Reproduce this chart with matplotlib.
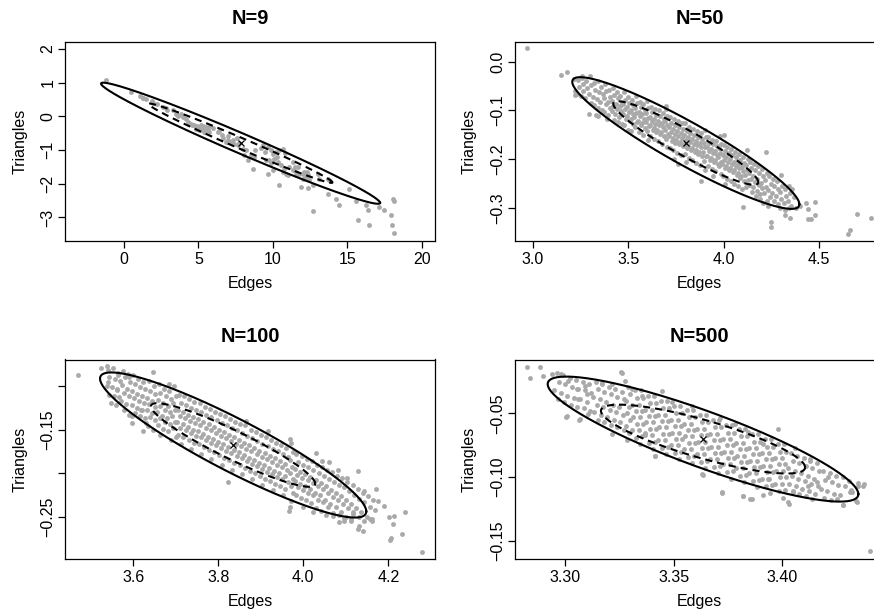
import numpy as np
import matplotlib
matplotlib.use("Agg")
import matplotlib.pyplot as plt

plt.rcParams['font.family'] = ['Liberation Sans', 'DejaVu Sans']

titles = ["N=9", "N=50", "N=100", "N=500"]
x_label = "Edges"
y_label = "Triangles"

pts_9 = [(-1.21,1.07),(0.47,0.72),(1.25,0.54),(1.48,0.52),(1.88,0.45),(1.97,0.38),(2.60,0.28),(2.82,0.23),(3.27,0.18),(3.49,0.08),
(3.83,0.08),(3.94,-0.02),(4.17,-0.07),(4.28,-0.17),(4.50,-0.22),(4.73,-0.27),(4.95,-0.32),(5.17,-0.27),(5.29,-0.37),(5.51,-0.32),
(5.62,-0.42),(5.73,-0.47),(5.96,-0.35),(5.06,-0.42),(4.84,-0.39),(5.40,-0.47),(6.41,-0.45),(6.63,-0.64),(6.97,-0.71),(7.19,-0.76),
(7.41,-0.81),(7.30,-0.71),(7.64,-0.86),(7.97,-0.96),(8.20,-1.01),(8.09,-1.16),(8.31,-1.31),(8.64,-1.55),(9.32,-0.86),(9.65,-0.91),
(9.88,-1.01),(9.99,-1.11),(10.21,-1.06),(10.44,-1.01),(10.66,-0.98),(9.54,-1.31),(9.76,-1.31),(10.10,-1.26),(10.32,-1.36),(10.55,-1.46),
(10.77,-1.55),(10.88,-1.70),(11.11,-1.50),(11.33,-1.60),(11.56,-1.65),(11.67,-1.50),(11.78,-1.70),(12.00,-1.85),(12.12,-1.65),(12.34,-1.75),
(12.45,-1.90),(12.68,-2.05),(12.23,-1.80),(9.65,-1.70),(9.99,-1.60),(10.44,-2.05),(11.89,-2.10),(12.34,-2.13),(13.01,-1.70),(13.12,-1.85),
(13.68,-1.85),(13.80,-1.90),(13.68,-2.30),(14.24,-2.45),(14.47,-2.62),(15.10,-2.15),(15.59,-2.50),(16.26,-2.64),(16.37,-2.79),(17.16,-2.69),
(17.49,-2.79),(17.94,-2.92),(18.05,-2.45),(18.12,-2.52),(18.01,-3.24),(18.16,-3.46),(12.68,-2.80),(15.70,-3.09),(16.48,-3.22),(6.85,-0.76),
(6.29,-0.47),(7.75,-0.78),(8.53,-1.16),(8.76,-1.21),(11.33,-1.36),(11.56,-1.75),(10.66,-1.65),(11.00,-1.75),
(4.6,-0.25),(4.9,-0.28),(5.3,-0.30),(5.6,-0.35),(5.8,-0.30),(5.2,-0.40),(4.4,-0.20),(3.6,0.0),(2.9,0.20),(2.2,0.35),(1.3,0.55),(1.1,0.60),
(9.9,-1.40),(10.3,-1.20),(10.8,-1.10),(11.5,-1.50),(12.0,-1.70),(12.3,-1.65),(9.5,-1.05),(9.2,-0.95),(8.8,-1.00),(7.6,-0.65),(7.0,-0.60),(6.6,-0.55)]

pts_50 = [(3.215,-0.035),(3.221,-0.060),(3.235,-0.038),(3.241,-0.052),(3.230,-0.066),
(3.260,-0.033),(3.266,-0.046),(3.255,-0.070),(3.263,-0.061),(3.280,-0.040),(3.286,-0.055),(3.275,-0.075),
(3.300,-0.030),(3.306,-0.048),(3.295,-0.066),(3.303,-0.085),(3.293,-0.107),
(3.320,-0.045),(3.326,-0.058),(3.315,-0.072),(3.323,-0.090),
(3.340,-0.040),(3.346,-0.062),(3.335,-0.077),(3.343,-0.095),(3.333,-0.110),
(3.360,-0.052),(3.366,-0.066),(3.355,-0.083),(3.363,-0.099),
(3.380,-0.047),(3.386,-0.060),(3.375,-0.075),(3.383,-0.088),(3.373,-0.104),(3.388,-0.118),
(3.400,-0.058),(3.406,-0.072),(3.395,-0.083),(3.403,-0.096),(3.393,-0.110),
(3.420,-0.055),(3.426,-0.068),(3.415,-0.080),(3.423,-0.091),(3.413,-0.102),(3.428,-0.120),
(3.440,-0.062),(3.446,-0.075),(3.435,-0.087),(3.443,-0.097),(3.433,-0.108),(3.448,-0.123),
(3.460,-0.070),(3.466,-0.082),(3.455,-0.092),(3.463,-0.101),(3.453,-0.113),(3.468,-0.128),
(3.480,-0.063),(3.486,-0.078),(3.475,-0.088),(3.483,-0.098),(3.473,-0.107),(3.488,-0.117),(3.477,-0.131),
(3.500,-0.072),(3.506,-0.085),(3.495,-0.094),(3.503,-0.103),(3.493,-0.111),(3.508,-0.122),(3.497,-0.140),
(3.520,-0.078),(3.526,-0.090),(3.515,-0.099),(3.523,-0.108),(3.513,-0.117),(3.528,-0.128),(3.517,-0.142),
(3.540,-0.070),(3.546,-0.086),(3.535,-0.096),(3.543,-0.105),(3.533,-0.114),(3.548,-0.123),(3.537,-0.134),
(3.560,-0.082),(3.566,-0.094),(3.555,-0.103),(3.563,-0.112),(3.553,-0.121),(3.568,-0.130),(3.557,-0.145),
(3.580,-0.088),(3.586,-0.099),(3.575,-0.108),(3.583,-0.117),(3.573,-0.126),(3.588,-0.136),(3.577,-0.150),
(3.600,-0.080),(3.606,-0.095),(3.595,-0.106),(3.603,-0.115),(3.593,-0.124),(3.608,-0.133),(3.597,-0.143),(3.605,-0.160),
(3.620,-0.093),(3.626,-0.104),(3.615,-0.113),(3.623,-0.122),(3.613,-0.131),(3.628,-0.140),(3.617,-0.152),
(3.640,-0.098),(3.646,-0.109),(3.635,-0.118),(3.643,-0.127),(3.633,-0.136),(3.648,-0.145),(3.637,-0.158),
(3.660,-0.100),(3.666,-0.112),(3.655,-0.122),(3.663,-0.131),(3.653,-0.140),(3.668,-0.149),(3.657,-0.162),
(3.680,-0.106),(3.686,-0.117),(3.675,-0.126),(3.683,-0.135),(3.673,-0.144),(3.688,-0.153),(3.677,-0.168),
(3.700,-0.098),(3.706,-0.112),(3.695,-0.122),(3.703,-0.131),(3.693,-0.140),(3.708,-0.149),(3.697,-0.158),(3.705,-0.175),
(3.720,-0.114),(3.726,-0.126),(3.715,-0.135),(3.723,-0.144),(3.713,-0.153),(3.728,-0.162),(3.717,-0.178),
(3.740,-0.118),(3.746,-0.130),(3.735,-0.139),(3.743,-0.148),(3.733,-0.157),(3.748,-0.166),(3.737,-0.182),
(3.760,-0.122),(3.766,-0.134),(3.755,-0.143),(3.763,-0.152),(3.753,-0.161),(3.768,-0.170),(3.757,-0.188),
(3.780,-0.126),(3.786,-0.138),(3.775,-0.147),(3.783,-0.156),(3.773,-0.165),(3.788,-0.174),(3.777,-0.192),
(3.800,-0.125),(3.806,-0.142),(3.795,-0.151),(3.803,-0.160),(3.793,-0.169),(3.808,-0.178),(3.797,-0.190),(3.805,-0.205),
(3.820,-0.134),(3.826,-0.146),(3.815,-0.155),(3.823,-0.164),(3.813,-0.173),(3.828,-0.182),(3.817,-0.198),
(3.840,-0.138),(3.846,-0.150),(3.835,-0.159),(3.843,-0.168),(3.833,-0.177),(3.848,-0.186),(3.837,-0.202),
(3.860,-0.142),(3.866,-0.154),(3.855,-0.163),(3.863,-0.172),(3.853,-0.181),(3.868,-0.190),(3.857,-0.207),
(3.880,-0.146),(3.886,-0.158),(3.875,-0.167),(3.883,-0.176),(3.873,-0.185),(3.888,-0.194),(3.877,-0.212),
(3.900,-0.140),(3.906,-0.155),(3.895,-0.166),(3.903,-0.176),(3.893,-0.185),(3.908,-0.194),(3.897,-0.204),(3.905,-0.222),
(3.920,-0.155),(3.926,-0.166),(3.915,-0.175),(3.923,-0.184),(3.913,-0.193),(3.928,-0.202),(3.917,-0.215),
(3.940,-0.160),(3.946,-0.170),(3.935,-0.179),(3.943,-0.188),(3.933,-0.197),(3.948,-0.206),(3.937,-0.220),(3.945,-0.235),
(3.960,-0.163),(3.966,-0.174),(3.955,-0.183),(3.963,-0.192),(3.953,-0.201),(3.968,-0.210),(3.957,-0.225),
(3.980,-0.152),(3.986,-0.168),(3.975,-0.178),(3.983,-0.187),(3.973,-0.196),(3.988,-0.205),(3.977,-0.214),(3.985,-0.230),
(4.000,-0.172),(4.006,-0.183),(3.995,-0.192),(4.003,-0.201),(3.993,-0.210),(4.008,-0.219),(3.997,-0.235),(4.005,-0.250),
(4.020,-0.176),(4.026,-0.187),(4.015,-0.196),(4.023,-0.205),(4.013,-0.214),(4.028,-0.223),(4.017,-0.240),
(4.040,-0.180),(4.046,-0.191),(4.035,-0.200),(4.043,-0.209),(4.033,-0.218),(4.048,-0.227),(4.037,-0.245),
(4.060,-0.185),(4.066,-0.196),(4.055,-0.205),(4.063,-0.214),(4.053,-0.223),(4.068,-0.232),(4.057,-0.250),
(4.080,-0.190),(4.086,-0.201),(4.075,-0.210),(4.083,-0.219),(4.073,-0.228),(4.088,-0.238),(4.077,-0.255),
(4.100,-0.195),(4.106,-0.207),(4.095,-0.216),(4.103,-0.225),(4.093,-0.234),(4.108,-0.244),(4.097,-0.262),
(4.120,-0.182),(4.126,-0.200),(4.115,-0.212),(4.123,-0.222),(4.113,-0.232),(4.128,-0.242),(4.117,-0.258),
(4.140,-0.205),(4.146,-0.218),(4.135,-0.228),(4.143,-0.240),(4.133,-0.252),(4.148,-0.268),
(4.160,-0.210),(4.166,-0.222),(4.155,-0.234),(4.163,-0.246),(4.153,-0.258),(4.168,-0.275),
(4.180,-0.215),(4.186,-0.228),(4.175,-0.240),(4.183,-0.252),(4.173,-0.265),(4.188,-0.282),
(4.200,-0.220),(4.206,-0.235),(4.195,-0.248),(4.203,-0.260),(4.193,-0.272),(4.208,-0.290),
(4.220,-0.185),(4.226,-0.228),(4.215,-0.242),(4.223,-0.258),(4.213,-0.270),(4.228,-0.285),
(4.240,-0.235),(4.246,-0.250),(4.235,-0.264),(4.243,-0.278),(4.233,-0.295),
(4.260,-0.240),(4.266,-0.255),(4.255,-0.270),(4.263,-0.285),
(4.280,-0.245),(4.286,-0.262),(4.275,-0.275),(4.283,-0.292),
(4.300,-0.232),(4.306,-0.255),(4.295,-0.268),(4.303,-0.282),(4.293,-0.300),
(4.320,-0.262),(4.326,-0.276),(4.315,-0.290),(4.323,-0.305),
(4.340,-0.255),(4.346,-0.270),(4.335,-0.285),(4.343,-0.300),
(4.360,-0.262),(4.366,-0.278),(4.355,-0.295),
(4.38,-0.300),(4.40,-0.296),(4.43,-0.290),(4.44,-0.302),(4.44,-0.322),(4.46,-0.322),(4.48,-0.287),(4.48,-0.315),
(4.35,-0.320),(4.32,-0.314),(4.25,-0.329),(4.25,-0.339),(4.10,-0.299),(4.70,-0.312),(4.77,-0.320),(4.66,-0.346),
(4.65,-0.354),(4.00,-0.151),(3.76,-0.210),(3.74,-0.200),(3.88,-0.245),(3.34,-0.112),(3.15,-0.027),(3.18,-0.021),
(2.97,0.027),(3.22,-0.068),(3.26,-0.030),(3.70,-0.092)]

pts_100 = [(3.540,-0.082),(3.544,-0.090),(3.537,-0.100),(3.542,-0.110),
(3.552,-0.080),(3.556,-0.092),(3.549,-0.101),(3.554,-0.112),(3.548,-0.120),
(3.564,-0.085),(3.568,-0.094),(3.561,-0.104),(3.566,-0.113),(3.560,-0.122),
(3.576,-0.083),(3.580,-0.090),(3.573,-0.099),(3.578,-0.108),(3.572,-0.117),(3.579,-0.128),
(3.588,-0.086),(3.592,-0.095),(3.585,-0.103),(3.590,-0.112),(3.584,-0.121),(3.591,-0.133),
(3.600,-0.088),(3.604,-0.098),(3.597,-0.106),(3.602,-0.114),(3.596,-0.122),(3.603,-0.131),(3.598,-0.143),
(3.612,-0.092),(3.616,-0.101),(3.609,-0.109),(3.614,-0.117),(3.608,-0.125),(3.615,-0.135),
(3.624,-0.095),(3.628,-0.104),(3.621,-0.112),(3.626,-0.119),(3.620,-0.127),(3.627,-0.137),(3.622,-0.152),
(3.636,-0.094),(3.640,-0.106),(3.633,-0.114),(3.638,-0.121),(3.632,-0.128),(3.639,-0.136),(3.634,-0.146),
(3.648,-0.100),(3.652,-0.109),(3.645,-0.117),(3.650,-0.124),(3.644,-0.131),(3.651,-0.139),(3.646,-0.150),
(3.660,-0.098),(3.664,-0.108),(3.657,-0.116),(3.662,-0.123),(3.656,-0.130),(3.663,-0.137),(3.658,-0.145),(3.664,-0.156),
(3.672,-0.104),(3.676,-0.112),(3.669,-0.120),(3.674,-0.127),(3.668,-0.134),(3.675,-0.141),(3.670,-0.149),
(3.684,-0.106),(3.688,-0.115),(3.681,-0.123),(3.686,-0.130),(3.680,-0.137),(3.687,-0.144),(3.682,-0.152),(3.688,-0.162),
(3.696,-0.100),(3.700,-0.112),(3.693,-0.120),(3.698,-0.127),(3.692,-0.134),(3.699,-0.141),(3.694,-0.148),(3.700,-0.158),
(3.708,-0.110),(3.712,-0.119),(3.705,-0.127),(3.710,-0.134),(3.704,-0.141),(3.711,-0.148),(3.706,-0.156),(3.712,-0.166),
(3.720,-0.112),(3.724,-0.122),(3.717,-0.130),(3.722,-0.137),(3.716,-0.144),(3.723,-0.151),(3.718,-0.159),
(3.732,-0.115),(3.736,-0.125),(3.729,-0.133),(3.734,-0.140),(3.728,-0.147),(3.735,-0.154),(3.730,-0.162),(3.736,-0.172),
(3.744,-0.118),(3.748,-0.128),(3.741,-0.136),(3.746,-0.143),(3.740,-0.150),(3.747,-0.157),(3.742,-0.165),
(3.756,-0.120),(3.760,-0.130),(3.753,-0.138),(3.758,-0.145),(3.752,-0.152),(3.759,-0.159),(3.754,-0.167),(3.760,-0.178),
(3.768,-0.124),(3.772,-0.133),(3.765,-0.141),(3.770,-0.148),(3.764,-0.155),(3.771,-0.162),(3.766,-0.170),
(3.780,-0.126),(3.784,-0.136),(3.777,-0.144),(3.782,-0.151),(3.776,-0.158),(3.783,-0.165),(3.778,-0.173),(3.784,-0.184),
(3.792,-0.130),(3.796,-0.139),(3.789,-0.147),(3.794,-0.154),(3.788,-0.161),(3.795,-0.168),(3.790,-0.176),
(3.804,-0.132),(3.808,-0.142),(3.801,-0.150),(3.806,-0.157),(3.800,-0.164),(3.807,-0.171),(3.802,-0.179),(3.808,-0.190),
(3.816,-0.135),(3.820,-0.145),(3.813,-0.153),(3.818,-0.160),(3.812,-0.167),(3.819,-0.174),(3.814,-0.182),
(3.828,-0.138),(3.832,-0.148),(3.825,-0.156),(3.830,-0.163),(3.824,-0.170),(3.831,-0.177),(3.826,-0.185),(3.832,-0.196),
(3.840,-0.141),(3.844,-0.151),(3.837,-0.159),(3.842,-0.166),(3.836,-0.173),(3.843,-0.180),(3.838,-0.188),
(3.852,-0.144),(3.856,-0.154),(3.849,-0.162),(3.854,-0.169),(3.848,-0.176),(3.855,-0.183),(3.850,-0.191),(3.856,-0.201),
(3.864,-0.145),(3.868,-0.157),(3.861,-0.165),(3.866,-0.172),(3.860,-0.179),(3.867,-0.186),(3.862,-0.194),
(3.876,-0.150),(3.880,-0.160),(3.873,-0.168),(3.878,-0.175),(3.872,-0.182),(3.879,-0.189),(3.874,-0.197),(3.880,-0.207),
(3.888,-0.153),(3.892,-0.163),(3.885,-0.171),(3.890,-0.178),(3.884,-0.185),(3.891,-0.192),(3.886,-0.200),
(3.900,-0.156),(3.904,-0.166),(3.897,-0.174),(3.902,-0.181),(3.896,-0.188),(3.903,-0.195),(3.898,-0.203),(3.904,-0.213),
(3.912,-0.159),(3.916,-0.169),(3.909,-0.177),(3.914,-0.184),(3.908,-0.191),(3.915,-0.198),(3.910,-0.206),
(3.924,-0.162),(3.928,-0.172),(3.921,-0.180),(3.926,-0.187),(3.920,-0.194),(3.927,-0.201),(3.922,-0.209),(3.928,-0.219),
(3.936,-0.165),(3.940,-0.175),(3.933,-0.183),(3.938,-0.190),(3.932,-0.197),(3.939,-0.204),(3.934,-0.212),
(3.948,-0.168),(3.952,-0.178),(3.945,-0.186),(3.950,-0.193),(3.944,-0.200),(3.951,-0.207),(3.946,-0.215),(3.952,-0.225),
(3.960,-0.171),(3.964,-0.181),(3.957,-0.189),(3.962,-0.196),(3.956,-0.203),(3.963,-0.210),(3.958,-0.218),
(3.972,-0.165),(3.976,-0.176),(3.969,-0.185),(3.974,-0.193),(3.968,-0.200),(3.975,-0.207),(3.970,-0.214),(3.976,-0.222),(3.971,-0.232),
(3.984,-0.178),(3.988,-0.187),(3.981,-0.195),(3.986,-0.202),(3.980,-0.209),(3.987,-0.216),(3.982,-0.225),
(3.996,-0.180),(4.000,-0.190),(3.993,-0.198),(3.998,-0.205),(3.992,-0.212),(3.999,-0.219),(3.994,-0.228),(4.000,-0.238),
(4.008,-0.184),(4.012,-0.193),(4.005,-0.201),(4.010,-0.208),(4.004,-0.215),(4.011,-0.222),(4.006,-0.231),
(4.020,-0.186),(4.024,-0.196),(4.017,-0.204),(4.022,-0.211),(4.016,-0.218),(4.023,-0.225),(4.018,-0.234),(4.024,-0.244),
(4.032,-0.190),(4.036,-0.200),(4.029,-0.208),(4.034,-0.215),(4.028,-0.222),(4.035,-0.230),(4.030,-0.240),
(4.044,-0.193),(4.048,-0.203),(4.041,-0.211),(4.046,-0.218),(4.040,-0.225),(4.047,-0.233),(4.042,-0.243),
(4.056,-0.196),(4.060,-0.206),(4.053,-0.214),(4.058,-0.222),(4.052,-0.230),(4.059,-0.238),(4.054,-0.248),
(4.068,-0.199),(4.072,-0.210),(4.065,-0.219),(4.070,-0.227),(4.064,-0.235),(4.071,-0.245),
(4.080,-0.203),(4.084,-0.213),(4.077,-0.222),(4.082,-0.230),(4.076,-0.238),(4.083,-0.248),
(4.092,-0.205),(4.096,-0.216),(4.089,-0.226),(4.094,-0.235),(4.088,-0.244),(4.095,-0.254),
(4.104,-0.210),(4.108,-0.220),(4.101,-0.230),(4.106,-0.240),(4.100,-0.250),
(4.116,-0.213),(4.120,-0.225),(4.113,-0.235),(4.118,-0.244),(4.112,-0.255),
(4.128,-0.218),(4.132,-0.229),(4.125,-0.240),(4.130,-0.250),
(4.140,-0.222),(4.144,-0.233),(4.137,-0.244),(4.142,-0.255),
(4.152,-0.226),(4.156,-0.238),(4.149,-0.250),
(4.164,-0.230),(4.168,-0.242),(4.161,-0.255),
(3.471,-0.087),(3.524,-0.079),(3.538,-0.077),(3.563,-0.087),(3.540,-0.095),(3.561,-0.105),(3.590,-0.090),(3.647,-0.084),
(3.685,-0.098),(3.598,-0.134),(3.618,-0.127),(3.630,-0.142),(3.823,-0.210),(3.969,-0.238),(3.865,-0.140),(3.916,-0.152),
(3.969,-0.161),(4.031,-0.177),(4.045,-0.186),(4.061,-0.187),(4.081,-0.196),(4.104,-0.205),(4.129,-0.197),(4.143,-0.220),
(4.171,-0.218),(4.175,-0.232),(4.191,-0.237),(4.201,-0.250),(4.214,-0.249),(4.240,-0.244),(4.210,-0.258),(4.232,-0.269),
(4.206,-0.274),(4.204,-0.276),(4.279,-0.290),(4.132,-0.260),(4.140,-0.266),(4.128,-0.264),(4.112,-0.252),(4.096,-0.251),
(4.085,-0.256),(4.069,-0.249),(4.157,-0.252),(4.162,-0.252),(4.116,-0.246),(3.967,-0.243)]

pts_500 = [(3.296,-0.018),(3.297,-0.025),(3.295,-0.032),(3.2965,-0.039),
(3.299,-0.020),(3.300,-0.027),(3.298,-0.034),(3.2995,-0.041),
(3.302,-0.022),(3.303,-0.029),(3.301,-0.036),(3.3025,-0.043),
(3.305,-0.024),(3.306,-0.031),(3.304,-0.038),(3.3055,-0.045),
(3.308,-0.025),(3.309,-0.032),(3.307,-0.039),(3.3085,-0.046),
(3.311,-0.027),(3.312,-0.034),(3.310,-0.041),(3.3115,-0.048),
(3.314,-0.025),(3.315,-0.031),(3.313,-0.037),(3.3145,-0.043),(3.3135,-0.049),(3.315,-0.055),
(3.317,-0.027),(3.318,-0.033),(3.316,-0.039),(3.3175,-0.045),(3.3165,-0.051),(3.318,-0.057),
(3.320,-0.029),(3.321,-0.035),(3.319,-0.041),(3.3205,-0.047),(3.3195,-0.053),(3.321,-0.059),
(3.323,-0.031),(3.324,-0.037),(3.322,-0.043),(3.3235,-0.049),(3.3225,-0.055),(3.324,-0.061),
(3.326,-0.033),(3.327,-0.039),(3.325,-0.045),(3.3265,-0.051),(3.3255,-0.057),(3.327,-0.063),
(3.329,-0.029),(3.330,-0.035),(3.328,-0.040),(3.3295,-0.045),(3.3285,-0.050),(3.330,-0.055),(3.328,-0.060),(3.3295,-0.065),(3.3285,-0.071),
(3.332,-0.032),(3.333,-0.038),(3.331,-0.043),(3.3325,-0.048),(3.3315,-0.053),(3.333,-0.058),(3.331,-0.063),(3.3325,-0.069),
(3.335,-0.032),(3.336,-0.038),(3.334,-0.043),(3.3355,-0.048),(3.3345,-0.053),(3.336,-0.058),(3.334,-0.063),(3.3355,-0.068),(3.3345,-0.074),
(3.338,-0.036),(3.339,-0.042),(3.337,-0.047),(3.3385,-0.052),(3.3375,-0.057),(3.339,-0.062),(3.337,-0.067),(3.3385,-0.073),
(3.341,-0.036),(3.342,-0.042),(3.340,-0.047),(3.3415,-0.052),(3.3405,-0.057),(3.342,-0.062),(3.340,-0.067),(3.3415,-0.072),(3.3405,-0.078),
(3.344,-0.040),(3.345,-0.046),(3.343,-0.051),(3.3445,-0.056),(3.3435,-0.061),(3.345,-0.066),(3.343,-0.071),(3.3445,-0.077),
(3.347,-0.040),(3.348,-0.046),(3.346,-0.051),(3.3475,-0.056),(3.3465,-0.061),(3.348,-0.066),(3.346,-0.071),(3.3475,-0.076),(3.3465,-0.082),
(3.350,-0.044),(3.351,-0.050),(3.349,-0.055),(3.3505,-0.060),(3.3495,-0.065),(3.351,-0.070),(3.349,-0.075),(3.3505,-0.081),
(3.353,-0.044),(3.354,-0.050),(3.352,-0.055),(3.3535,-0.060),(3.3525,-0.065),(3.354,-0.070),(3.352,-0.075),(3.3535,-0.080),(3.3525,-0.086),
(3.356,-0.047),(3.357,-0.053),(3.355,-0.058),(3.3565,-0.063),(3.3555,-0.068),(3.357,-0.073),(3.355,-0.078),(3.3565,-0.084),
(3.359,-0.047),(3.360,-0.053),(3.358,-0.058),(3.3595,-0.063),(3.3585,-0.068),(3.360,-0.073),(3.358,-0.078),(3.3595,-0.083),(3.3585,-0.089),
(3.362,-0.051),(3.363,-0.057),(3.361,-0.062),(3.3625,-0.067),(3.3615,-0.072),(3.363,-0.077),(3.361,-0.082),(3.3625,-0.088),
(3.365,-0.051),(3.366,-0.057),(3.364,-0.062),(3.3655,-0.067),(3.3645,-0.072),(3.366,-0.077),(3.364,-0.082),(3.3655,-0.087),(3.3645,-0.093),
(3.368,-0.055),(3.369,-0.061),(3.367,-0.066),(3.3685,-0.071),(3.3675,-0.076),(3.369,-0.081),(3.367,-0.086),(3.3685,-0.092),
(3.371,-0.055),(3.372,-0.061),(3.370,-0.066),(3.3715,-0.071),(3.3705,-0.076),(3.372,-0.081),(3.370,-0.086),(3.3715,-0.091),(3.3705,-0.097),
(3.374,-0.059),(3.375,-0.065),(3.373,-0.070),(3.3745,-0.075),(3.3735,-0.080),(3.375,-0.085),(3.373,-0.090),(3.3745,-0.096),
(3.377,-0.059),(3.378,-0.065),(3.376,-0.070),(3.3775,-0.075),(3.3765,-0.080),(3.378,-0.085),(3.376,-0.090),(3.3775,-0.095),(3.3765,-0.101),
(3.380,-0.062),(3.381,-0.068),(3.379,-0.073),(3.3805,-0.078),(3.3795,-0.083),(3.381,-0.088),(3.379,-0.093),(3.3805,-0.099),
(3.383,-0.062),(3.384,-0.068),(3.382,-0.073),(3.3835,-0.078),(3.3825,-0.083),(3.384,-0.088),(3.382,-0.093),(3.3835,-0.098),(3.3825,-0.104),
(3.386,-0.066),(3.387,-0.072),(3.385,-0.077),(3.3865,-0.082),(3.3855,-0.087),(3.387,-0.092),(3.385,-0.097),(3.3865,-0.103),
(3.389,-0.066),(3.390,-0.072),(3.388,-0.077),(3.3895,-0.082),(3.3885,-0.087),(3.390,-0.092),(3.388,-0.097),(3.3895,-0.102),(3.3885,-0.108),
(3.392,-0.070),(3.393,-0.076),(3.391,-0.081),(3.3925,-0.086),(3.3915,-0.091),(3.393,-0.096),(3.391,-0.101),(3.3925,-0.107),
(3.395,-0.070),(3.396,-0.076),(3.394,-0.081),(3.3955,-0.086),(3.3945,-0.091),(3.396,-0.096),(3.394,-0.101),(3.3955,-0.106),(3.3945,-0.112),
(3.398,-0.074),(3.399,-0.080),(3.397,-0.085),(3.3985,-0.090),(3.3975,-0.095),(3.399,-0.100),(3.397,-0.105),(3.3985,-0.111),
(3.401,-0.074),(3.402,-0.080),(3.400,-0.085),(3.4015,-0.090),(3.4005,-0.095),(3.402,-0.100),(3.400,-0.105),(3.4015,-0.110),(3.4005,-0.116),
(3.404,-0.081),(3.405,-0.087),(3.403,-0.093),(3.4045,-0.099),(3.4035,-0.105),(3.405,-0.111),
(3.407,-0.083),(3.408,-0.089),(3.406,-0.095),(3.4075,-0.101),(3.4065,-0.107),(3.408,-0.113),
(3.410,-0.085),(3.411,-0.091),(3.409,-0.097),(3.4105,-0.103),(3.4095,-0.109),(3.411,-0.115),
(3.413,-0.087),(3.414,-0.093),(3.412,-0.099),(3.4135,-0.105),(3.4125,-0.111),(3.414,-0.117),
(3.416,-0.089),(3.417,-0.095),(3.415,-0.101),(3.4165,-0.107),(3.4155,-0.113),
(3.419,-0.095),(3.420,-0.102),(3.418,-0.109),(3.4195,-0.116),
(3.422,-0.097),(3.423,-0.104),(3.421,-0.111),(3.4225,-0.118),
(3.425,-0.099),(3.426,-0.106),(3.424,-0.113),
(3.428,-0.100),(3.429,-0.107),(3.427,-0.114),
(3.431,-0.103),(3.432,-0.110),
(3.2826,-0.0135),(3.2882,-0.0135),(3.2838,-0.0219),(3.2897,-0.0208),(3.2938,-0.0188),(3.298,-0.0193),(3.3258,-0.0174),
(3.3277,-0.0247),(3.3008,-0.0523),(3.3066,-0.0552),(3.3723,-0.112),(3.382,-0.1146),(3.3854,-0.1172),(3.3634,-0.0982),
(3.4031,-0.1208),(3.4282,-0.1216),(3.4343,-0.1185),(3.4349,-0.1047),(3.438,-0.1055),(3.4315,-0.1112),(3.4408,-0.158),
(3.3415,-0.0833),(3.3369,-0.0656),(3.3014,-0.0244),(3.3053,-0.0310),(3.3091,-0.0284),(3.3099,-0.0349),(3.3060,-0.0388),
(3.3006,-0.0524),(3.3068,-0.0545),(3.3106,-0.0506),(3.3168,-0.0258),(3.3214,-0.0271),(3.3260,-0.0179),(3.3306,-0.0310),
(3.3353,-0.0362),(3.3445,-0.0323),(3.3214,-0.0662),(3.3414,-0.0832),(3.3629,-0.0975),(3.3722,-0.1119),(3.3822,-0.1145),
(3.3860,-0.1171),(3.3914,-0.1140),(3.3937,-0.1015),(3.4029,-0.1197),(3.4052,-0.1119),(3.4119,-0.1067),(3.4160,-0.1041),
(3.4214,-0.1002),(3.4252,-0.1171),(3.4283,-0.1216),(3.4322,-0.1119),(3.4345,-0.1192),(3.4375,-0.1067),(3.4349,-0.1072),
(3.4129,-0.0858),(3.4060,-0.0767),(3.3983,-0.0623),(3.3914,-0.0741),(3.3845,-0.0649),(3.3783,-0.0584),(3.3714,-0.0532),
(3.3583,-0.0440),(3.3491,-0.0414)]

# ---------------- ellipse summaries: centre, x half-range, y half-range, correlation ----------------
centre_9 = (7.83, -0.80)
outer_9 = (9.37, 1.796, -0.984)
inner_9 = (6.18, 1.176, -0.989)

centre_50 = (3.802, -0.167)
outer_50 = (0.5946, 0.1349, -0.930)
inner_50 = (0.3798, 0.0856, -0.938)

centre_100 = (3.835, -0.1676)
outer_100 = (0.3133, 0.083, -0.915)
inner_100 = (0.1933, 0.0478, -0.926)

centre_500 = (3.3636, -0.0701)
outer_500 = (0.07168, 0.049, -0.88)
inner_500 = (0.0471, 0.027, -0.82)

# ---------------- ticks ----------------
xticks_9 = [0, 5, 10, 15, 20]
xticklabels_9 = ["0", "5", "10", "15", "20"]
yticks_9 = [-3, -2, -1, 0, 1, 2]
yticklabels_9 = ["\u22123", "\u22122", "\u22121", "0", "1", "2"]

xticks_50 = [3.0, 3.5, 4.0, 4.5]
xticklabels_50 = ["3.0", "3.5", "4.0", "4.5"]
yticks_50 = [-0.3, -0.2, -0.1, 0.0]
yticklabels_50 = ["\u22120.3", "\u22120.2", "\u22120.1", "0.0"]

xticks_100 = [3.6, 3.8, 4.0, 4.2]
xticklabels_100 = ["3.6", "3.8", "4.0", "4.2"]
yticks_100 = [-0.25, -0.20, -0.15, -0.10]
yticklabels_100 = ["\u22120.25", "", "\u22120.15", ""]

xticks_500 = [3.30, 3.35, 3.40]
xticklabels_500 = ["3.30", "3.35", "3.40"]
yticks_500 = [-0.15, -0.10, -0.05]
yticklabels_500 = ["\u22120.15", "\u22120.10", "\u22120.05"]

panels = [
    (pts_9, centre_9, outer_9, inner_9, xticks_9, xticklabels_9, yticks_9, yticklabels_9),
    (pts_50, centre_50, outer_50, inner_50, xticks_50, xticklabels_50, yticks_50, yticklabels_50),
    (pts_100, centre_100, outer_100, inner_100, xticks_100, xticklabels_100, yticks_100, yticklabels_100),
    (pts_500, centre_500, outer_500, inner_500, xticks_500, xticklabels_500, yticks_500, yticklabels_500),
]

# layout (figure fractions) and axis ranges
W, H = 874, 613
box_w, box_h = 369.7, 199.5
rects = [
    [65.3 / W, 1 - 241.0 / H, box_w / W, box_h / H],
    [514.7 / W, 1 - 241.0 / H, box_w / W, box_h / H],
    [65.3 / W, 1 - 559.0 / H, box_w / W, box_h / H],
    [514.7 / W, 1 - 559.0 / H, box_w / W, box_h / H],
]
xlims = [(-3.94, 20.89), (2.906, 4.842), (3.44, 4.31), (3.2767, 3.4473)]
ylims = [(-3.70, 2.217), (-0.3677, 0.041), (-0.298, -0.0698), (-0.1641, -0.0077)]


def ellipse_xy(centre, a, b, r, n=400):
    t = np.linspace(0, 2 * np.pi, n)
    ex = centre[0] + a * np.cos(t)
    ey = centre[1] + b * (r * np.cos(t) + np.sqrt(1 - r * r) * np.sin(t))
    return ex, ey


fig = plt.figure(figsize=(W / 100, H / 100), dpi=100)
fs = 11.5
for i, (pts, c, outer, inner, xt, xtl, yt, ytl) in enumerate(panels):
    ax = fig.add_axes(rects[i])
    arr = np.array(pts)
    ax.plot(arr[:, 0], arr[:, 1], 'o', color='#A9A9A9', ms=3.5, mec='none', zorder=1)
    ex, ey = ellipse_xy(c, *outer)
    ax.plot(ex, ey, color='black', lw=1.5, zorder=3)
    ex, ey = ellipse_xy(c, *inner)
    ax.plot(ex, ey, color='black', lw=1.5, ls=(0, (3.4, 2.4)), zorder=3)
    ax.plot([c[0]], [c[1]], marker='x', color='black', ms=4.5, mew=0.9, ls='none', zorder=4)
    ax.set_xlim(*xlims[i])
    ax.set_ylim(*ylims[i])
    ax.set_xticks(xt)
    ax.set_xticklabels(xtl)
    ax.set_yticks(yt)
    ax.set_yticklabels(ytl)
    ax.tick_params(direction='out', length=5, width=0.9, labelsize=fs, colors='black')
    ax.tick_params(axis='x', pad=3)
    ax.tick_params(axis='y', pad=2)
    for lbl in ax.get_yticklabels():
        lbl.set_rotation(90)
        lbl.set_va('center')
    for s in ax.spines.values():
        s.set_linewidth(0.9)
    ax.set_title(titles[i], fontsize=14.4, fontweight='bold', pad=12.5)
    ax.set_xlabel(x_label, fontsize=fs)
    ax.xaxis.set_label_coords(0.5, -42.5 / box_h)
    ax.xaxis.label.set_va('center')
    ax.set_ylabel(y_label, fontsize=fs)
    ax.yaxis.set_label_coords(-45.3 / box_w, 0.5)
    ax.yaxis.label.set_va('center')

fig.savefig("out.png", dpi=100)
